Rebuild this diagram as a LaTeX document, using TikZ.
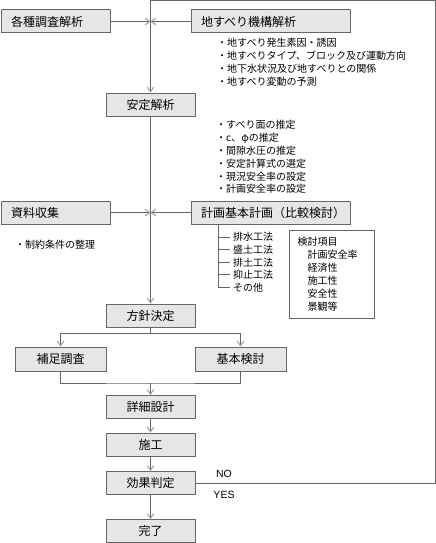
\documentclass[tikz,border=0pt]{standalone}
\usepackage{fontspec}
\usepackage{tikz}
\usetikzlibrary{arrows.meta}
\usetikzlibrary{positioning}
\newfontfamily\jpfont{Noto Sans CJK JP}
\newfontfamily\latfont{Liberation Sans}
\definecolor{linegray}{HTML}{666666}
\definecolor{boxfill}{HTML}{E6E6E6}
\definecolor{tipgray}{HTML}{999999}
\tikzset{
    flowbox/.style = {draw=linegray, fill=boxfill, line width=1pt, minimum height=23pt, inner sep=0pt, font=\jpfont\fontsize{12}{12}\selectfont},
    sidebox/.style = {flowbox, text width=#1, inner xsep=10pt, align=left},
    midbox/.style = {flowbox, minimum width=89pt},
    note/.style = {font=\jpfont\fontsize{10}{12}\selectfont, inner sep=0pt, anchor=west},
    yesno/.style = {font=\latfont\fontsize{10.5}{10.5}\selectfont, inner sep=0pt},
    flow/.style = {draw=linegray, line width=1pt},
    arr/.style = {flow, -{Straight Barb[length=4.5pt, width=6.5pt, color=tipgray]}}
}
\begin{document}
\begin{tikzpicture}[x = 1pt, y = -1pt]
            \pgfmathsetmacro{\dy}{12.7};
            \useasboundingbox (0, 0) rectangle (436, 543);
            \node [sidebox=89pt] (kakushu) at (55.5, 21.5) {各種調査解析};
            \node [sidebox=139pt] (kiko) at (270.5, 21.5) {地すべり機構解析};
            \node [midbox] (anzen) at (150.5, 104.5) {安定解析};
            \node [sidebox=89pt] (shiryo) at (55.5, 212.5) {資料収集};
            \node [sidebox=139pt] (keikaku) at (270.5, 212.5) {\mbox{計画基本計画（比較検討）}};
            \node [midbox] (houshin) at (150.5, 315.5) {方針決定};
            \node [flowbox, minimum width=91pt, minimum height=24pt] (hosoku) at (60.5, 359) {補足調査};
            \node [flowbox, minimum width=91pt, minimum height=24pt] (kihon) at (240.5, 359) {基本検討};
            \node [midbox] (shosai) at (150.5, 407) {詳細設計};
            \node [midbox] (sekou) at (150.5, 444.5) {施工};
            \node [midbox] (kouka) at (150.5, 483) {効果判定};
            \node [midbox] (kanryo) at (150.5, 531) {完了};
            \foreach \t [count=\i] in {・地すべり発生素因・誘因, ・地すべりタイプ、ブロック及び運動方向, ・地下水状況及び地すべりとの関係, ・地すべり変動の予測}
                \node [note] (kikoNote\i) at (217, 30.5 + \dy*\i) {\t};
            \foreach \t [count=\i] in {・すべり面の推定, ・c、φの推定, ・間隙水圧の推定, ・安定計算式の選定, ・現況安全率の設定, ・計画安全率の設定}
                \node [note] (anzenNote\i) at (216, 112.3 + 12.8*\i) {\t};
            \node [note] (seiyaku) at (15, 245) {・制約条件の整理};
            \foreach \t [count=\i] in {排水工法, 盛土工法, 排土工法, 抑止工法, その他}
                \node [note] (kouhou\i) at (233, 224.5 + 12.6*\i) {\t};
            \coordinate (treeTop) at ([xshift=28pt]keikaku.south west);
            \draw [flow] (treeTop) |- ([xshift=-3pt]kouhou5.west);
            \foreach \i in {1,...,4}
                \draw [flow] (kouhou\i.west -| treeTop) -- ([xshift=-3pt]kouhou\i.west);
            \node [draw=linegray, line width=1pt, anchor=north west, text width=69pt, inner xsep=8pt, minimum height=88pt, align=left, font=\jpfont\fontsize{10}{13}\selectfont] (kentou) at (289, 230) {検討項目\\\hspace*{10pt}計画安全率\\\hspace*{10pt}経済性\\\hspace*{10pt}施工性\\\hspace*{10pt}安全性\\\hspace*{10pt}景観等};
            \draw [arr] (kakushu.east) -- (kakushu.east -| anzen.north);
            \draw [arr] (kiko.west) -- (kiko.west -| anzen.north);
            \coordinate (loopCorner) at (435, 1);
            \draw [arr] (kouka.east) -| (loopCorner) -| (anzen.north);
            \draw [arr] (anzen.south) -- (houshin.north);
            \draw [arr] (shiryo.east) -- (shiryo.east -| houshin.north);
            \draw [arr] (keikaku.west) -- (keikaku.west -| houshin.north);
            \draw [flow] (houshin.south) -- ++(0, 6) coordinate (split);
            \draw [arr] (split) -| (hosoku.north);
            \draw [arr] (split) -| (kihon.north);
            \coordinate (merge) at (150.5, 383);
            \draw [flow] (hosoku.south) |- (merge) -| (kihon.south);
            \draw [arr] (merge) -- (shosai.north);
            \draw [arr] (shosai) -- (sekou);
            \draw [arr] (sekou) -- (kouka);
            \draw [arr] (kouka) -- (kanryo);
            \node [yesno] (noLabel) at (224, 474) {NO};
            \node [yesno] (yesLabel) at (224, 495) {YES};
        \end{tikzpicture}
\end{document}
